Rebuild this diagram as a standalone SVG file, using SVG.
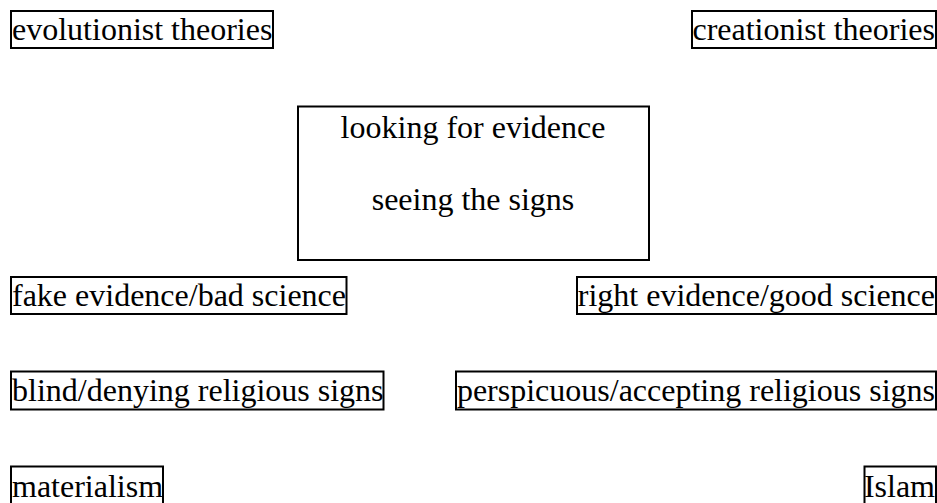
<svg xmlns="http://www.w3.org/2000/svg" width="937" height="503" viewBox="0 0 937 503">
<style>
.b{fill:none;stroke:#000;stroke-width:2}
.t{font-family:"Liberation Serif","Times New Roman",serif;font-size:32px;fill:#000}
.c{text-anchor:middle}
.e{text-anchor:end}
</style>
<rect width="937" height="503" fill="#fff"/>
<g id="evolutionist"><rect class="b" x="11" y="11" width="262" height="37"/><text class="t" x="12" y="39.5">evolutionist theories</text></g>
<g id="creationist"><rect class="b" x="692" y="11" width="244" height="37"/><text class="t e" x="935" y="39.5">creationist theories</text></g>
<g id="center"><rect class="b" x="298" y="106.5" width="351" height="153.5"/><text class="t c" x="473" y="137.5">looking for evidence</text><text class="t c" x="473" y="210">seeing the signs</text></g>
<g id="fake"><rect class="b" x="11" y="277" width="335.5" height="37"/><text class="t" x="12" y="305.5">fake evidence/bad science</text></g>
<g id="right"><rect class="b" x="577" y="277" width="359" height="37"/><text class="t e" x="935" y="305.5">right evidence/good science</text></g>
<g id="blind"><rect class="b" x="11" y="371.5" width="372.5" height="38"/><text class="t" x="12" y="400.5">blind/denying religious signs</text></g>
<g id="perspicuous"><rect class="b" x="456" y="371.5" width="480" height="38"/><text class="t e" x="935" y="400.5">perspicuous/accepting religious signs</text></g>
<g id="materialism"><rect class="b" x="11" y="466.5" width="152" height="40"/><text class="t" x="12" y="496.5">materialism</text></g>
<g id="islam"><rect class="b" x="864.5" y="466.5" width="71.5" height="40"/><text class="t e" x="935" y="496.5">Islam</text></g>
<g id="connectors"></g>
</svg>
